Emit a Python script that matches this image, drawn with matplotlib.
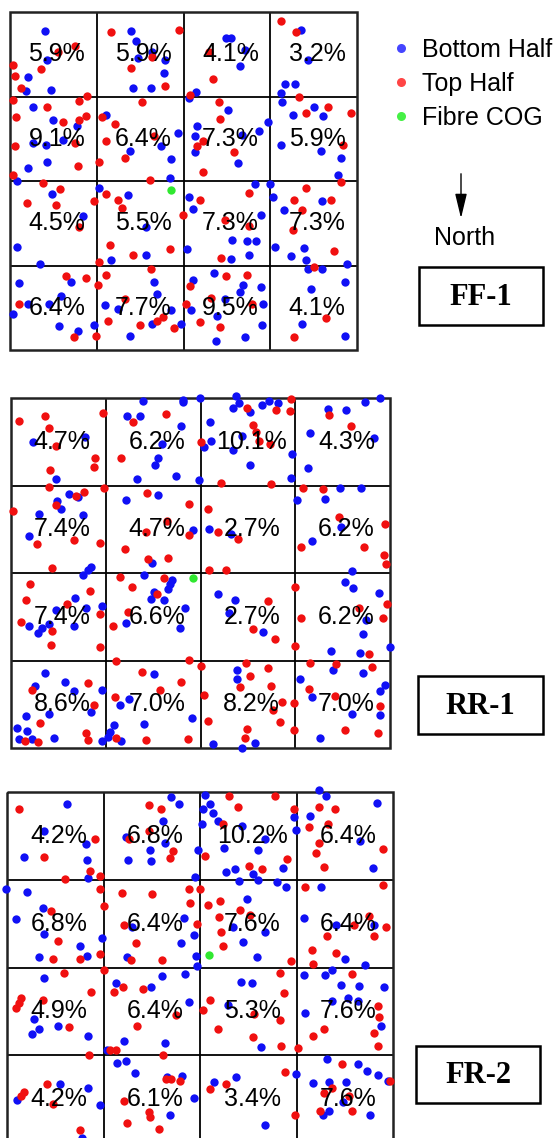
import matplotlib.pyplot as plt
from matplotlib.patches import Rectangle
from matplotlib.lines import Line2D

plt.rcParams['font.family'] = ['Liberation Sans', 'DejaVu Sans']

# grid units: 4 x 4 cells, 10 units each, y measured downwards
ff1_pct = [[5.9, 5.9, 4.1, 3.2],
           [9.1, 6.4, 7.3, 5.9],
           [4.5, 5.5, 7.3, 7.3],
           [6.4, 7.7, 9.5, 4.1]]
rr1_pct = [[4.7, 6.2, 10.1, 4.3],
           [7.4, 4.7, 2.7, 6.2],
           [7.4, 6.6, 2.7, 6.2],
           [8.6, 7.0, 8.2, 7.0]]
fr2_pct = [[4.2, 6.8, 10.2, 6.4],
           [6.8, 6.4, 7.6, 6.4],
           [4.9, 6.4, 5.3, 7.6],
           [4.2, 6.1, 3.4, 7.6]]

ff1_cog = (18.6, 21.1)
rr1_cog = (19.2, 20.6)
fr2_cog = (20.9, 18.6)

ff1_blue = [(4.0,2.3),(4.3,5.7),(2.1,7.7),(1.8,9.4),(4.7,9.2),
    (14.0,2.3),(14.5,3.4),(16.4,4.7),(14.7,5.5),(17.9,5.7),(17.7,7.2),(14.2,9.0),(16.3,9.0),
    (24.9,3.1),(25.5,3.1),(27.1,4.5),(26.5,6.4),(21.4,9.5),
    (33.6,2.1),(34.3,5.7),(31.7,8.5),(32.8,8.5),(31.2,9.6),
    (2.6,11.3),(4.9,12.8),(7.7,13.5),(2.7,15.5),(4.2,15.7),(2.1,18.5),(4.3,17.8),(0.8,20.0),(6.1,15.1),
    (11.1,12.2),(19.4,14.3),(17.4,15.9),(13.8,16.4),(18.6,17.4),(18.5,19.7),
    (20.6,10.2),(25.1,11.6),(21.6,13.5),(29.7,13.0),(28.7,14.1),(21.3,14.7),(21.3,16.6),(26.8,14.5),(26.3,17.9),
    (31.4,10.6),(32.6,12.2),(35.0,11.3),(36.1,12.3),(31.2,15.7),(35.9,16.4),(38.1,17.3),(37.8,19.3),
    (4.8,21.5),(8.4,24.1),(0.8,27.8),(3.5,29.8),
    (10.3,20.8),(13.6,21.7),(15.7,25.4),(11.6,29.3),(15.7,28.7),
    (20.6,21.9),(21.1,23.3),(28.2,20.4),(30.0,20.4),(30.3,21.9),(28.9,24.0),(25.6,27.0),(27.3,27.1),
    (28.4,27.1),(20.4,28.1),(25.5,29.2),(27.5,28.8),
    (31.6,23.4),(36.0,22.4),(30.6,27.8),(32.4,28.9),(33.9,27.9),(34.1,29.3),(34.4,30.4),(36.0,30.4),(38.9,29.8),
    (1.0,32.1),(7.0,31.9),(2.1,34.5),(0.4,35.7),(5.9,33.6),(4.5,34.6),(5.7,37.2),(7.8,37.8),(9.7,37.0),
    (16.6,31.9),(17.0,33.4),(10.9,34.7),(12.5,35.2),(13.8,38.3),(16.4,36.9),(18.6,35.3),(19.7,36.9),
    (21.1,31.7),(23.5,30.9),(26.9,32.3),(26.5,33.1),(28.9,32.6),(24.8,34.0),(20.9,35.3),(23.9,36.0),
    (29.2,34.6),(29.1,37.0),(23.7,38.9),(27.1,38.5),
    (34.7,32.8),(38.6,31.9),(33.7,36.9),(38.6,38.3)]

ff1_red = [(7.5,4.0),(5.5,4.7),(0.3,6.3),(0.6,7.6),(3.6,6.8),(1.3,9.0),
    (11.7,2.4),(19.5,2.1),(16.4,5.3),(13.9,6.6),(17.9,8.8),
    (22.9,4.7),(23.4,7.9),(20.7,9.8),
    (31.2,1.1),(33.0,2.4),
    (0.3,10.4),(0.7,12.4),(4.3,11.3),(7.9,10.5),(8.9,9.9),(6.1,13.0),(8.0,12.8),(8.8,12.3),(0.6,15.8),
    (7.5,15.5),(7.8,18.2),(0.3,19.3),
    (15.2,10.6),(10.6,12.4),(12.1,13.2),(16.6,14.7),(11.1,15.3),(13.3,17.3),(10.3,17.8),(16.1,19.9),
    (24.1,10.6),(24.2,12.7),(22.2,15.3),(21.5,15.8),(25.8,16.6),(22.3,18.9),
    (33.3,10.1),(34.1,12.0),(36.7,11.3),(39.3,11.9),(38.4,15.7),(38.1,20.1),
    (3.8,20.2),(5.8,21.0),(2.0,22.6),(5.3,22.8),(9.7,22.4),(7.9,25.4),
    (11.1,21.5),(12.4,22.3),(12.9,23.2),(19.9,24.0),(11.5,27.6),(14.2,28.7),(18.4,28.1),(10.3,29.6),
    (21.9,22.2),(27.6,21.4),(24.8,24.6),(27.5,25.3),(24.3,29.1),
    (34.1,20.8),(32.7,22.3),(33.7,23.4),(37.0,22.2),(32.6,25.8),(37.4,28.3),(35.1,30.2),
    (6.5,31.3),(8.8,31.5),(1.0,34.5),(7.4,38.5),(9.9,38.3),
    (10.2,32.3),(11.1,31.1),(16.3,30.4),(13.2,34.0),(11.3,36.6),(15.0,37.1),(17.0,36.6),(17.6,36.1),(18.9,37.4),
    (20.7,32.4),(24.9,31.3),(27.3,31.1),(23.2,33.8),(20.3,34.6),(21.9,36.7),(24.2,37.3),(27.9,34.5),
    (36.4,36.2),(32.7,38.5)]

rr1_blue = [(2.3,5.0),(7.8,4.5),(4.7,9.3),
    (13.9,0.3),(18.2,0.2),(18.2,0.5),(19.9,0.0),(12.2,2.0),(13.6,2.0),(17.9,3.2),(15.9,5.3),(15.5,6.9),
    (15.2,7.6),(13.3,9.2),(17.4,8.9),(19.8,9.4),
    (23.7,-0.2),(23.4,1.1),(24.1,0.6),(25.2,1.6),(26.5,0.8),(27.2,0.3),(28.2,0.6),(21.0,2.7),(21.1,4.9),
    (20.4,5.6),(23.4,5.9),(24.4,4.3),(29.7,6.4),(25.2,7.6),(29.5,9.1),
    (33.5,1.3),(35.4,1.4),(37.4,0.5),(38.9,0.0),(31.6,4.0),(38.3,4.6),(31.3,8.0),
    (6.1,11.0),(7.1,11.3),(4.9,11.8),(5.3,12.7),(3.0,13.3),(7.6,13.4),(1.9,15.8),(7.6,20.2),(8.1,19.6),(8.4,19.3),
    (12.1,11.6),(15.5,11.1),(19.2,15.1),(14.9,18.9),
    (20.9,15.0),(23.2,15.5),
    (34.7,10.3),(36.9,10.3),(30.2,11.6),(33.1,11.5),(34.8,14.7),(31.8,16.3),
    (6.8,22.8),(7.9,24.0),(9.6,23.8),(4.7,24.2),(1.9,26.1),(3.97,25.8),(3.3,26.3),(2.8,26.8),(6.6,26.1),
    (14.0,20.2),(17.0,20.8),(16.8,21.3),(16.6,21.8),(15.1,22.2),(14.8,23.0),(16.1,23.1),(18.4,24.0),
    (12.1,25.7),(17.8,26.3),
    (21.8,22.4),(23.6,23.1),(23.0,24.6),(26.6,26.7),
    (36.0,19.8),(35.3,21.0),(36.1,21.7),(38.8,22.3),(37.5,25.4),(37.2,27.0),(40.0,28.5),(33.8,28.9),(36.8,29.1),
    (3.6,31.4),(5.7,32.4),(2.5,32.9),(6.7,33.5),(9.6,33.4),(8.4,35.9),(4.0,36.1),(1.6,36.3),(0.6,37.7),
    (1.7,38.1),(0.8,39.0),(2.2,39.0),(4.5,38.8),
    (15.1,31.5),(12.5,34.4),(11.5,35.1),(19.1,36.6),(10.9,37.4),(10.5,38.2),(10.2,38.7),(9.6,39.2),
    (11.6,39.2),(14.0,37.2),
    (23.8,31.1),(23.9,32.1),(21.3,39.5),(25.8,39.4),(24.4,40.0),
    (34.0,31.1),(37.2,31.4),(30.5,32.1),(31.8,34.2),(39.5,32.8),(38.9,33.5),(36.0,36.1),(38.9,36.2),(32.6,38.9)]

rr1_red = [(0.8,2.6),(3.6,2.1),(4.0,3.4),(9.7,1.7),(4.7,5.5),(8.9,6.9),(8.8,7.9),(4.1,8.2),(4.0,10.2),
    (12.9,2.7),(16.4,1.8),(11.6,6.8),(20.1,5.0),
    (24.9,1.1),(29.5,0.1),(28.0,1.4),(29.4,1.5),(25.5,3.1),(25.9,3.9),(26.2,4.9),(27.3,5.3),(22.2,9.7),(27.4,9.8),
    (33.6,1.9),(35.9,3.2),
    (0.2,12.9),(6.9,11.2),(7.7,10.7),(9.8,10.3),(4.8,12.2),(2.7,16.7),(6.6,16.2),(9.4,16.6),(4.3,19.4),
    (14.4,10.8),(18.8,12.1),(14.3,15.3),(16.5,14.1),(18.8,15.6),(12.0,17.3),(14.5,18.4),(16.6,18.3),
    (20.8,12.7),(21.8,15.3),(24.0,16.1),(20.9,19.7),(22.7,19.6),
    (30.8,10.3),(32.9,10.4),(34.6,13.6),(39.5,14.4),(30.6,17.0),(37.3,17.0),(39.4,17.9),(39.6,19.0),
    (2.0,21.3),(1.6,23.1),(8.3,22.1),(5.9,23.5),(9.4,24.7),(1.1,25.6),(4.3,26.6),(4.2,28.2),(9.4,28.4),
    (11.5,20.4),(12.8,21.6),(16.2,20.6),(15.4,22.4),(12.3,24.4),(10.8,26.1),(11.1,30.0),(18.8,29.9),
    (27.1,23.2),(25.5,26.4),(27.9,27.5),(30.0,21.6),(30.0,28.3),(30.6,25.1),
    (39.7,23.5),(36.7,24.0),(39.3,25.1),(37.8,29.2),
    (8.1,32.6),(2.2,33.4),(8.8,35.1),(3.1,37.1),(1.5,39.2),(2.8,39.3),(7.9,38.3),(8.1,39.1),
    (13.8,31.3),(17.96,32.4),(15.7,33.4),(11.0,34.2),(11.1,38.9),(14.3,39.1),(18.7,39.0),(20.1,30.6),
    (24.8,30.3),(25.2,31.8),(27.1,30.8),(24.2,33.0),(27.4,32.9),(20.4,33.9),(28.6,34.7),(27.6,35.7),
    (29.9,34.9),(20.8,36.9),(28.4,37.0),(29.9,37.9),(24.96,37.8),(24.7,38.9),
    (31.6,30.3),(34.3,30.4),(38.1,30.7),(31.4,33.3),(34.2,34.1),(38.9,35.2),(35.3,37.9),(38.7,38.3)]

fr2_blue = [(6.2,1.4),(3.8,4.5),(8.2,5.9),(1.8,7.4),(8.3,7.8),(8.4,9.8),
    (17.0,0.6),(17.8,1.4),(16.2,3.3),(12.3,5.1),(16.4,5.8),(14.8,6.6),(12.5,7.8),(14.9,7.9),(19.8,6.6),
    (20.5,0.3),(21.0,1.4),(20.3,1.9),(21.3,2.4),(21.9,3.3),(20.2,3.7),(24.4,3.9),(29.7,2.9),(29.9,4.3),
    (26.7,5.4),(22.5,6.4),(26.0,6.6),(28.6,8.7),(22.7,9.1),(23.6,8.8),(25.5,9.3),(24.0,10.1),(26.0,10.0),
    (28.0,10.3),(28.9,10.8),
    (32.3,-0.2),(33.1,0.5),(38.3,1.2),(31.4,2.7),(36.6,5.6),(37.9,8.7),
    (-0.1,11.1),(2.1,11.4),(3.7,13.2),(0.9,14.5),(3.8,16.2),(7.6,17.5),(9.8,16.6),(3.3,18.8),(8.3,18.7),
    (19.5,9.7),(18.3,14.4),(13.0,15.4),(19.4,16.3),(18.0,17.2),(12.4,18.8),(19.6,18.7),(19.7,19.8),
    (24.9,12.2),(23.4,15.4),(26.7,15.9),(24.5,17.1),(25.9,18.8),
    (32.5,10.8),(30.8,14.4),(34.1,15.1),(38.0,15.2),(35.0,19.0),(37.1,19.7),
    (3.8,21.2),(2.8,25.9),(3.3,27.0),(2.6,27.6),(5.3,26.7),(8.4,27.8),
    (11.3,21.8),(14.9,22.2),(16.1,21.0),(18.4,20.7),(18.9,23.9),(12.1,28.4),(16.4,28.6),(10.4,29.4),
    (24.2,21.6),(25.4,21.8),(22.9,24.3),(26.3,29.1),
    (30.8,20.9),(33.0,20.9),(33.7,20.3),(34.6,22.0),(36.5,22.1),(39.1,22.2),(35.3,23.5),(36.4,23.8),
    (33.7,23.8),(30.9,25.2),(38.8,26.7),
    (5.5,33.3),(8.4,33.7),(1.0,35.1),(9.6,35.7),(7.8,39.4),
    (11.4,30.9),(12.3,30.6),(13.3,32.0),(16.6,32.5),(18.1,32.4),(16.9,36.8),(19.4,34.9),
    (21.4,33.0),(23.7,32.5),(29.9,32.1),(26.7,38.0),
    (33.2,30.4),(36.4,31.0),(37.3,31.8),(38.4,32.2),(39.5,32.9),(31.7,33.2),(33.4,33.0),(35.1,33.1),
    (34.8,35.3),(32.7,36.8),(33.4,36.3),(37.6,36.8)]

fr2_red = [(1.2,1.9),(9.1,5.3),(3.8,7.4),(8.6,9.0),(9.6,9.6),(6.0,9.9),
    (14.7,1.5),(16.0,1.9),(14.7,4.5),(12.6,5.4),(17.2,6.7),(16.9,7.5),(20.5,7.3),
    (23.0,0.4),(27.8,0.5),(23.9,1.7),(22.4,3.6),(29.7,1.9),(29.0,7.6),(25.1,8.4),(26.4,8.8),
    (32.3,1.7),(34.0,1.9),(33.3,3.6),(31.3,4.0),(32.3,5.8),(32.0,7.0),(39.0,6.5),(32.8,8.6),
    (9.6,11.1),(10.0,13.0),(4.6,13.6),(5.3,17.0),(4.8,19.0),(7.6,19.0),(9.6,18.5),
    (11.9,11.5),(15.0,11.6),(18.9,11.0),(20.0,11.1),(19.0,12.6),(12.1,15.2),(19.7,15.0),(13.4,17.2),
    (12.8,19.2),(16.1,19.1),
    (20.8,12.9),(22.1,12.4),(24.1,13.5),(25.2,14.0),(22.0,14.2),(22.2,16.0),(22.4,17.6),(29.4,19.3),
    (30.9,10.8),(39.0,10.6),(36.0,15.2),(37.5,14.1),(39.3,15.4),(33.2,16.4),(38.0,16.4),(31.6,18.0),
    (34.1,18.3),(31.7,19.6),
    (5.9,20.6),(10.1,20.3),(8.7,22.8),(1.5,23.5),(1.2,24.1),(0.9,24.6),(3.7,23.7),(6.4,26.8),(8.5,30.0),
    (11.1,22.8),(12.0,22.2),(14.1,22.5),(17.5,25.4),(13.5,26.7),(10.7,29.4),(11.3,29.4),(16.2,30.0),
    (28.3,20.6),(21.0,23.7),(20.3,24.8),(28.7,22.9),(28.3,26.0),(21.9,27.0),(25.6,25.3),(25.5,27.9),
    (28.4,28.9),(30.2,29.2),
    (35.8,20.7),(38.4,24.4),(38.6,25.6),(32.8,27.0),(31.7,27.8),(38.0,27.5),(38.4,28.9),
    (4.1,33.3),(1.8,34.2),(1.5,34.6),(4.8,35.5),(7.6,38.5),
    (16.5,32.7),(17.0,32.7),(17.9,32.9),(12.1,35.2),(14.7,36.5),(14.8,37.0),(12.4,37.7),(15.8,38.4),
    (21.0,33.8),(22.7,33.3),(28.8,31.9),(29.8,36.8),
    (34.7,31.0),(39.7,32.9),(33.7,33.7),(32.9,34.3),(35.4,34.6),(32.4,36.3),(35.7,36.3)]

legend_labels = ['Bottom Half', 'Top Half', 'Fibre COG']

W, H = 555, 1138
fig = plt.figure(figsize=(W / 100, H / 100), dpi=100)

BLUE, RED, GREEN = '#1010f5', '#f01010', '#30e830'


def draw_panel(box, blue, red, cog, pct):
    x0, y0, x1, y1 = box
    ax = fig.add_axes([x0 / W, 1 - y1 / H, (x1 - x0) / W, (y1 - y0) / H])
    ax.set_xlim(0, 40)
    ax.set_ylim(40, 0)
    ax.axis('off')
    for v in [10, 20, 30]:
        ax.axvline(v, color='k', lw=1.3, zorder=1)
        ax.axhline(v, color='k', lw=1.3, zorder=1)
    ax.add_patch(Rectangle((0, 0), 40, 40, fill=False, ec='#222222', lw=1.8,
                           clip_on=False, zorder=1))
    ax.scatter([p[0] for p in blue], [p[1] for p in blue], s=36, c=BLUE,
               lw=0, clip_on=False, zorder=2)
    ax.scatter([p[0] for p in red], [p[1] for p in red], s=36, c=RED,
               lw=0, clip_on=False, zorder=2)
    ax.scatter([cog[0]], [cog[1]], s=36, c=GREEN, lw=0, clip_on=False, zorder=2)
    for r in range(4):
        for c in range(4):
            ax.text(c * 10 + 5.4, r * 10 + 5, '%.1f%%' % pct[r][c], fontsize=18,
                    ha='center', va='center', zorder=3)


draw_panel((10, 12, 357, 350), ff1_blue, ff1_red, ff1_cog, ff1_pct)
draw_panel((11, 398, 390, 748), rr1_blue, rr1_red, rr1_cog, rr1_pct)
draw_panel((7, 792, 393, 1143), fr2_blue, fr2_red, fr2_cog, fr2_pct)

handles = [Line2D([], [], ls='', marker='o', markersize=6.5, mew=0, color=col)
           for col in ['#4545ff', '#ff4545', '#45f045']]
fig.legend(handles=handles, labels=legend_labels, loc='upper left',
           bbox_to_anchor=(393 / W, 1 - 38 / H), frameon=False, fontsize=18,
           handlelength=0.6, handletextpad=0.55, labelspacing=0.4,
           borderpad=0, borderaxespad=0)

# overlay in pixel units for the north arrow and the labels
ov = fig.add_axes([0, 0, 1, 1])
ov.set_xlim(0, W)
ov.set_ylim(H, 0)
ov.axis('off')
ov.annotate('', xy=(461, 221), xytext=(461, 171),
            arrowprops=dict(arrowstyle='-|>,head_width=0.18,head_length=0.75',
                            color='k', lw=1.0, mutation_scale=20))
ov.text(465, 238, 'North', fontsize=18, ha='center', va='center')

for (bx0, by0, bx1, by1), name in [((419, 267, 543, 325), 'FF-1'),
                                   ((418, 676, 543, 734), 'RR-1'),
                                   ((416, 1046, 540, 1103), 'FR-2')]:
    ov.add_patch(Rectangle((bx0, by0), bx1 - bx0, by1 - by0, fill=False,
                           ec='k', lw=1.8))
    ov.text((bx0 + bx1) / 2, (by0 + by1) / 2 + 1, name, fontsize=22,
            fontweight='bold', family=['Liberation Serif', 'DejaVu Serif'],
            ha='center', va='center')

fig.savefig('out.png', dpi=100)
